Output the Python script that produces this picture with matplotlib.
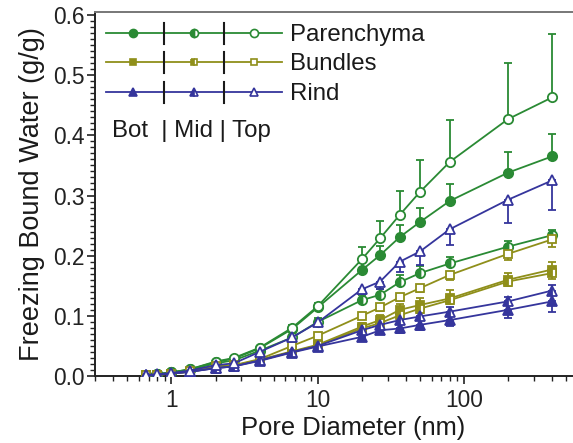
import matplotlib
matplotlib.use("Agg")
import matplotlib.pyplot as plt
from matplotlib.lines import Line2D
from matplotlib.ticker import FixedLocator, NullFormatter, MultipleLocator, FormatStrFormatter
import numpy as np

plt.rcParams['font.family'] = ['Liberation Sans', 'DejaVu Sans']

# ---------------- data ----------------
pore_diameter = [0.67, 0.8, 1.0, 1.33, 2.0, 2.67, 4.0, 6.67, 10, 20, 26.7, 36.4, 50, 80, 200, 400]

par_top = [0.002, 0.003, 0.006, 0.011, 0.024, 0.030, 0.047, 0.080, 0.116, 0.194, 0.229, 0.268, 0.306, 0.356, 0.427, 0.463]
par_mid = [0.002, 0.003, 0.006, 0.010, 0.021, 0.026, 0.042, 0.064, 0.090, 0.126, 0.135, 0.156, 0.171, 0.187, 0.215, 0.234]
par_bot = [0.002, 0.003, 0.006, 0.011, 0.023, 0.029, 0.046, 0.078, 0.114, 0.176, 0.201, 0.231, 0.256, 0.291, 0.338, 0.365]

bun_top = [0.001, 0.002, 0.004, 0.008, 0.016, 0.018, 0.028, 0.050, 0.067, 0.100, 0.114, 0.131, 0.146, 0.168, 0.203, 0.227]
bun_mid = [0.001, 0.002, 0.004, 0.007, 0.014, 0.017, 0.026, 0.040, 0.051, 0.079, 0.088, 0.101, 0.112, 0.126, 0.157, 0.171]
bun_bot = [0.001, 0.002, 0.004, 0.007, 0.014, 0.017, 0.027, 0.041, 0.052, 0.082, 0.093, 0.110, 0.118, 0.129, 0.160, 0.177]

rind_top = [0.002, 0.003, 0.005, 0.009, 0.018, 0.021, 0.040, 0.064, 0.089, 0.144, 0.157, 0.190, 0.207, 0.244, 0.293, 0.325]
rind_mid = [0.001, 0.002, 0.004, 0.007, 0.013, 0.016, 0.026, 0.040, 0.050, 0.076, 0.085, 0.093, 0.099, 0.107, 0.124, 0.142]
rind_bot = [0.001, 0.002, 0.004, 0.007, 0.013, 0.016, 0.025, 0.039, 0.049, 0.065, 0.076, 0.079, 0.085, 0.093, 0.110, 0.124]

# one-sided error bars (up = +, down = -)
err_par_top = [0, 0, 0, 0, 0, 0, 0.002, 0.004, 0.006, 0.021, 0.029, 0.039, 0.053, 0.069, 0.093, 0.105]
err_par_mid = [0, 0, 0, 0, 0, 0, 0.002, 0.004, 0.007, 0.008, 0.010, 0.012, 0.011, 0.010, 0.010, 0.009]
err_par_bot = [0, 0, 0, 0, 0, 0, 0.002, 0.003, 0.005, 0.012, 0.015, 0.020, 0.024, 0.028, 0.035, 0.038]
err_bun_top = [0, 0, 0, 0, 0, 0, 0.002, 0.003, 0.004, 0.005, 0.006, 0.007, 0.007, 0.008, 0.011, 0.012]
err_bun_mid = [0, 0, 0, 0, 0, 0, 0.002, 0.003, 0.004, 0.005, 0.006, 0.006, 0.007, 0.007, 0.008, 0.009]
err_bun_bot = [0, 0, 0, 0, 0, 0, 0.002, 0.003, 0.004, 0.006, 0.008, 0.010, 0.011, 0.014, 0.011, 0.013]
err_rind_top = [0, 0, 0, 0, 0, 0, 0.002, 0.004, 0.005, 0.008, 0.012, 0.017, 0.023, 0.027, 0.038, 0.049]
err_rind_mid = [0, 0, 0, 0, 0, 0, 0.002, 0.003, 0.003, 0.004, 0.005, 0.006, 0.006, 0.007, 0.007, 0.009]
err_rind_bot = [0, 0, 0, 0, 0, 0, 0.002, 0.003, 0.004, 0.006, 0.007, 0.008, 0.009, 0.010, 0.013, 0.018]

x_tick_values = [1, 10, 100]
x_tick_labels = ['1', '10', '100']
y_tick_values = [0.0, 0.1, 0.2, 0.3, 0.4, 0.5, 0.6]
legend_labels = ['Parenchyma', 'Bundles', 'Rind']
position_label = 'Bot  | Mid | Top'

# ---------------- styling ----------------
GREEN = '#2a8a34'
OLIVE = '#8f8f1a'
BLUE = '#35359c'

W, H = 573, 443
fig = plt.figure(figsize=(W / 100, H / 100), dpi=100)
ax_left, ax_right, ax_bottom, ax_top = 95, 610.3, 376, 11.7
ax = fig.add_axes([ax_left / W, 1 - ax_bottom / H, (ax_right - ax_left) / W, (ax_bottom - ax_top) / H])
ax.set_xscale('log')
ax.set_xlim(0.3, 1000)
ax.set_ylim(0, 0.6055)

series = [
    (par_bot, err_par_bot, 'up', GREEN, 'o', 'full', 6.7),
    (par_mid, err_par_mid, 'up', GREEN, 'o', 'left', 6.7),
    (par_top, err_par_top, 'up', GREEN, 'o', 'none', 6.7),
    (bun_bot, err_bun_bot, 'up', OLIVE, 's', 'full', 5.9),
    (bun_mid, err_bun_mid, 'down', OLIVE, 's', 'left', 5.9),
    (bun_top, err_bun_top, 'down', OLIVE, 's', 'none', 5.9),
    (rind_bot, err_rind_bot, 'down', BLUE, '^', 'full', 7.3),
    (rind_mid, err_rind_mid, 'up', BLUE, '^', 'left', 7.3),
    (rind_top, err_rind_top, 'down', BLUE, '^', 'none', 7.3),
]

for vals, err, direction, col, mk, fs, ms in series:
    err = np.asarray(err)
    zeros = np.zeros_like(err)
    yerr = [zeros, err] if direction == 'up' else [err, zeros]
    ax.errorbar(pore_diameter, vals, yerr=yerr, fmt='none', ecolor=col,
                elinewidth=1.3, capsize=3.2, capthick=1.3, zorder=2)

for vals, err, direction, col, mk, fs, ms in series:
    if fs == 'full':
        kw = dict(markerfacecolor=col)
    elif fs == 'left':
        kw = dict(fillstyle='left', markerfacecolor=col, markerfacecoloralt='white')
    else:
        kw = dict(markerfacecolor='white')
    ax.plot(pore_diameter, vals, color=col, lw=1.3, marker=mk, ms=ms,
            markeredgecolor=col, markeredgewidth=1.3, zorder=3, **kw)

# ticks
ax.xaxis.set_major_locator(FixedLocator(x_tick_values))
ax.set_xticklabels(x_tick_labels)
ax.xaxis.set_minor_locator(FixedLocator([m * 10.0 ** e for e in range(-1, 3) for m in range(2, 10)]))
ax.xaxis.set_minor_formatter(NullFormatter())
ax.yaxis.set_major_locator(FixedLocator(y_tick_values))
ax.yaxis.set_major_formatter(FormatStrFormatter('%.1f'))
ax.yaxis.set_minor_locator(MultipleLocator(0.01))
ax.tick_params(axis='both', which='major', direction='out', length=6, width=1.2,
               labelsize=16.4, pad=1.5, colors='#222222', labelcolor='#222222')
ax.tick_params(axis='both', which='minor', direction='out', length=3.5, width=1.0, colors='#222222')
ax.tick_params(axis='x', which='major', pad=3.5)

for s in ['left', 'bottom']:
    ax.spines[s].set_linewidth(1.4)
    ax.spines[s].set_color('#222222')
ax.spines['top'].set_color('#777777')
ax.spines['top'].set_linewidth(1.4)
ax.spines['right'].set_visible(False)

ax.set_xlabel('Pore Diameter (nm)', fontsize=18.4, color='#1a1a1a', labelpad=3)
ax.set_ylabel('Freezing Bound Water (g/g)', fontsize=19.5, color='#1a1a1a', labelpad=6)

# ---------------- custom legend ----------------
def fx(px):
    return px / W

def fy(py):
    return 1 - py / H

rows = [(33.3, GREEN, 'o', 5.8), (62.3, OLIVE, 's', 5.0), (92.3, BLUE, '^', 6.0)]
marker_x = [132.7, 194.3, 254.0]
fills = ['full', 'left', 'none']
for (ry, col, mk, ms), lab, baseline in zip(rows, legend_labels, [40.7, 70.0, 100.0]):
    fig.add_artist(Line2D([fx(106), fx(282)], [fy(ry), fy(ry)], color=col, lw=1.3))
    for mxp, fs in zip(marker_x, fills):
        if fs == 'full':
            kw = dict(markerfacecolor=col)
        elif fs == 'left':
            kw = dict(fillstyle='left', markerfacecolor=col, markerfacecoloralt='white')
        else:
            kw = dict(markerfacecolor='white')
        fig.add_artist(Line2D([fx(mxp)], [fy(ry)], marker=mk, ms=ms, color=col,
                              markeredgecolor=col, markeredgewidth=1.2, linestyle='none', **kw))
    for sx in [164.0, 224.3]:
        fig.add_artist(Line2D([fx(sx), fx(sx)], [fy(ry - 10.5), fy(ry + 11)], color='#1a1a1a', lw=1.5))
    fig.text(fx(290), fy(baseline), lab, fontsize=17.3, color='#1a1a1a', ha='left', va='baseline')

fig.text(fx(112), fy(136.7), position_label, fontsize=17.3, color='#1a1a1a', ha='left', va='baseline')

fig.savefig('out.png', dpi=100)
